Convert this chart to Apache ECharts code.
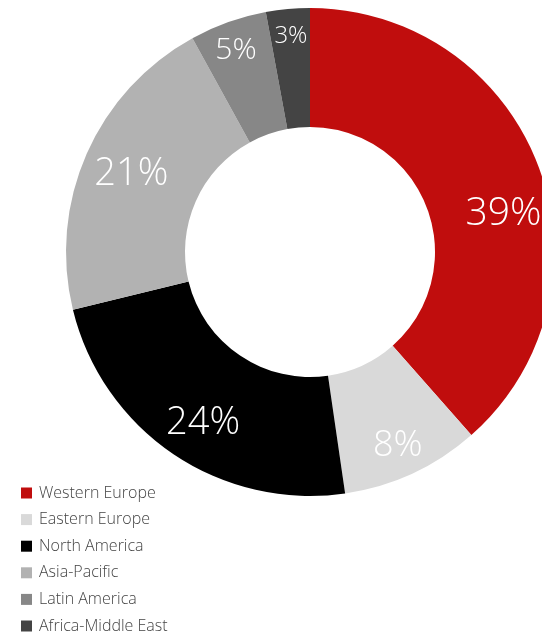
<!DOCTYPE html>
<html>
<head>
<meta charset="utf-8">
<script src="https://cdn.jsdelivr.net/npm/echarts@6/dist/echarts.min.js"></script>
<style>
  html, body { margin: 0; padding: 0; background: #fff; }
  #main { width: 542px; height: 635px; }
</style>
</head>
<body>
<div id="main"></div>
<script>
  var regions = ['Western Europe', 'Eastern Europe', 'North America', 'Asia-Pacific', 'Latin America', 'Africa-Middle East'];
  // slice sizes
  var shares = [38.5, 9.2, 23.5, 20.8, 5.1, 2.9];
  // the percentages printed on the slices
  var printed = ['39%', '8%', '24%', '21%', '5%', '3%'];
  var colors = ['#C00D0D', '#D9D9D9', '#000000', '#B2B2B2', '#878787', '#444444'];

  // label tweaks so the numbers sit where they do in the picture
  var labelSizes = [39, 36, 38, 38, 30, 24];
  var labelOffsets = [[18, 28], [9, 24], [-2, 16], [-7, -2], [-11, -25], [-2, -29]];

  var data = [];
  for (var i = 0; i < regions.length; i++) {
    data.push({
      name: regions[i],
      value: shares[i],
      text: printed[i],
      itemStyle: { color: colors[i] },
      label: { fontSize: labelSizes[i], offset: labelOffsets[i] }
    });
  }

  var chart = echarts.init(document.getElementById('main'));
  chart.setOption({
    animation: false,
    legend: {
      orient: 'vertical',
      left: 16,
      top: 480,
      height: 155,
      itemWidth: 11,
      itemHeight: 11,
      itemGap: 10.6,
      icon: 'rect',
      data: regions,
      textStyle: {
        fontFamily: 'Open Sans',
        fontWeight: 300,
        fontSize: 16,
        lineHeight: 16,
        color: '#444',
        padding: [0, 0, 0, 2]
      }
    },
    series: [{
      type: 'pie',
      center: [310, 252],
      radius: [125, 244],
      startAngle: 90,
      clockwise: true,
      avoidLabelOverlap: false,
      label: {
        show: true,
        position: 'inside',
        formatter: function (p) { return p.data.text; },
        color: '#fff',
        fontFamily: 'Open Sans',
        fontWeight: 300
      },
      labelLine: { show: false },
      emphasis: { disabled: true },
      data: data
    }]
  });
</script>
</body>
</html>
